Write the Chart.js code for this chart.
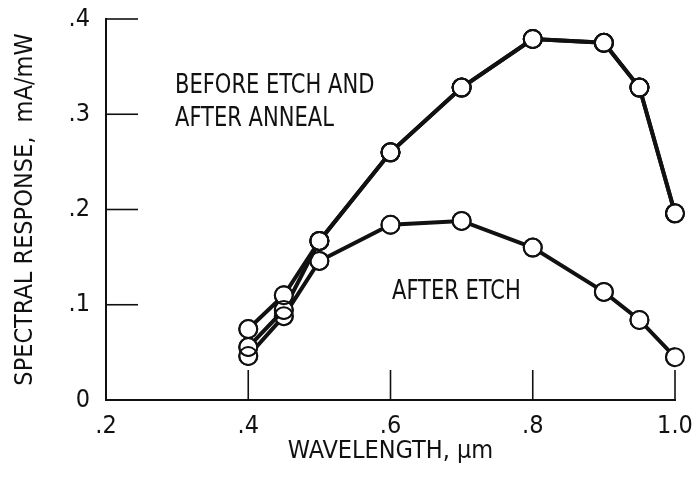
<!DOCTYPE html>
<html>
<head>
<meta charset="utf-8">
<script src="https://cdn.jsdelivr.net/npm/chart.js@4/dist/chart.umd.min.js"></script>
<style>
  html, body { margin: 0; padding: 0; background: #fff; }
  #wrap { width: 697px; height: 479px; position: relative; }
</style>
</head>
<body>
<div id="wrap"><canvas id="c" width="697" height="479"></canvas></div>
<script>
// ---- data ----
const wavelengths = [0.4, 0.45, 0.5, 0.6, 0.7, 0.8, 0.9, 0.95, 1.0];
const beforeEtch  = [0.0745, 0.110, 0.167, 0.260, 0.328, 0.379, 0.375, 0.328, 0.196];
const afterAnneal = [0.0556, 0.0945, 0.167, 0.260, 0.328, 0.379, 0.375, 0.328, 0.196];
const afterEtch   = [0.0462, 0.088, 0.146, 0.184, 0.188, 0.160, 0.1135, 0.084, 0.045];
const xTicks = [0.2, 0.4, 0.6, 0.8, 1.0];
const xTickLabels = ['.2', '.4', '.6', '.8', '1.0'];
const yTicks = [0, 0.1, 0.2, 0.3, 0.4];
const yTickLabels = ['0', '.1', '.2', '.3', '.4'];
const xTitle = 'WAVELENGTH, \u00b5m';
const yTitle = 'SPECTRAL RESPONSE,  mA/mW';
const notes = [
  { lines: ['BEFORE ETCH AND', 'AFTER ANNEAL'], x: 175, y: 86 },
  { lines: ['AFTER ETCH'], x: 392, y: 292 }
];

const FONT = '"Liberation Sans Narrow", "DejaVu Sans Condensed", "Arial Narrow", sans-serif';
const INK = '#111';

function toPoints(xs, ys) { return xs.map((x, i) => ({ x: x, y: ys[i] })); }

function ds(label, ys) {
  return {
    label: label,
    data: toPoints(wavelengths, ys),
    borderColor: INK,
    borderWidth: 4,
    pointRadius: 9,
    pointBorderWidth: 2,
    pointBorderColor: INK,
    pointBackgroundColor: '#fff',
    tension: 0,
    fill: false
  };
}

const innerTicks = {
  id: 'innerTicks',
  beforeDatasetsDraw(chart) {
    const { ctx, scales: { x, y } } = chart;
    ctx.save();
    ctx.strokeStyle = INK;
    ctx.lineWidth = 1.6;
    yTicks.forEach(v => {
      if (v === 0) return;
      const py = y.getPixelForValue(v);
      ctx.beginPath(); ctx.moveTo(x.left, py); ctx.lineTo(x.left + 32, py); ctx.stroke();
    });
    xTicks.forEach(v => {
      if (v === xTicks[0]) return;
      const px = x.getPixelForValue(v);
      ctx.beginPath(); ctx.moveTo(px, y.bottom); ctx.lineTo(px, y.bottom - 30); ctx.stroke();
    });
    ctx.restore();
  },
  afterDatasetsDraw(chart) {
    const { ctx } = chart;
    ctx.save();
    ctx.strokeStyle = INK;
    ctx.lineWidth = 2;
    chart.data.datasets.forEach((d, i) => {
      chart.getDatasetMeta(i).data.forEach(pt => {
        ctx.beginPath(); ctx.arc(pt.x, pt.y, 9, 0, Math.PI * 2); ctx.stroke();
      });
    });
    ctx.fillStyle = INK;
    ctx.font = '26px ' + FONT;
    ctx.textBaseline = 'middle';
    ctx.textAlign = 'left';
    notes.forEach(n => {
      n.lines.forEach((t, k) => {
        ctx.save();
        ctx.translate(n.x, n.y + k * 33);
        ctx.scale(0.9, 1);
        ctx.fillText(t, 0, 0);
        ctx.restore();
      });
    });
    ctx.restore();
  }
};

new Chart(document.getElementById('c'), {
  type: 'line',
  data: {
    datasets: [ds('Before etch', beforeEtch), ds('After anneal', afterAnneal), ds('After etch', afterEtch)]
  },
  options: {
    responsive: false,
    animation: false,
    devicePixelRatio: 1,
    layout: { padding: { left: 0, right: 22, top: 19, bottom: 0 } },
    plugins: { legend: { display: false }, tooltip: { enabled: false } },
    scales: {
      x: {
        type: 'linear',
        min: 0.2, max: 1.0,
        afterBuildTicks(scale) { scale.ticks = xTicks.map(v => ({ value: v })); },
        afterFit(scale) { scale.height = 79; scale.paddingLeft = 0; scale.paddingRight = 0; },
        ticks: {
          color: INK,
          font: { family: FONT, size: 25 },
          padding: 11,
          maxRotation: 0,
          callback(v) { const i = xTicks.indexOf(v); return i >= 0 ? xTickLabels[i] : ''; }
        },
        grid: { display: false, drawTicks: false },
        border: { display: true, color: INK, width: 2 },
        title: {
          display: true, text: xTitle, color: INK,
          font: { family: FONT, size: 25 },
          padding: { top: 0, bottom: 13 }
        }
      },
      y: {
        type: 'linear',
        min: 0, max: 0.4,
        afterBuildTicks(scale) { scale.ticks = yTicks.map(v => ({ value: v })); },
        afterFit(scale) { scale.width = 106; scale.paddingTop = 0; scale.paddingBottom = 0; },
        ticks: {
          color: INK,
          font: { family: FONT, size: 25 },
          padding: 16,
          callback(v) { const i = yTicks.indexOf(v); return i >= 0 ? yTickLabels[i] : ''; }
        },
        grid: { display: false, drawTicks: false },
        border: { display: true, color: INK, width: 2 },
        title: {
          display: true, text: yTitle, color: INK,
          font: { family: FONT, size: 25 },
          padding: { top: 10, bottom: 0 }
        }
      }
    }
  },
  plugins: [innerTicks]
});
</script>
</body>
</html>
